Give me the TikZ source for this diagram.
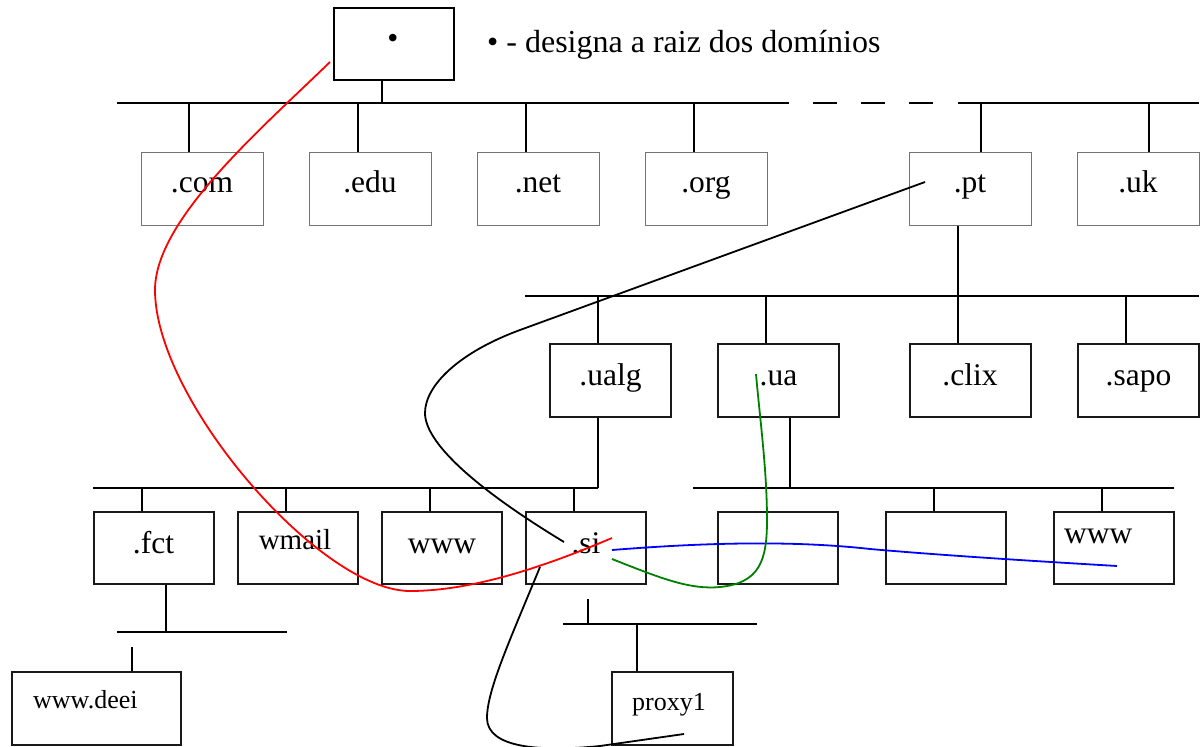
\documentclass[tikz,border=0pt]{standalone}
\usepackage{fontspec}
\setmainfont{Liberation Serif}
\begin{document}
\begin{tikzpicture}[x=1pt,y=-1pt,
  topbox/.style={draw=black!55,line width=1pt,minimum width=122pt,minimum height=73pt,inner sep=0pt},
  rootbox/.style={draw=black,line width=2pt,minimum width=120pt,minimum height=72pt,inner sep=0pt},
  midbox/.style={draw=black!90,line width=2pt,minimum width=121pt,minimum height=73pt,inner sep=0pt},
  lowbox/.style={draw=black!90,line width=2pt,minimum width=120pt,minimum height=72pt,inner sep=0pt},
  lbl/.style={anchor=base,inner sep=0pt,font=\fontsize{31.5}{36}\selectfont},
  bus/.style={line width=2pt,black},
  link/.style={line width=1.6pt,black},
  curve/.style={line width=1.8pt}]
\useasboundingbox[fill=white] (0,0) rectangle (1200,747);

% ---------- root ----------
\node[rootbox] (root) at (394,44) {};
\node[lbl] (rootdot) at (393,48) {•};
\node[anchor=base west,inner sep=0pt,font=\fontsize{32}{38}\selectfont] (legend) at (487,52) {• - designa a raiz dos domínios};

% ---------- top level ----------
\node[topbox] (com) at (202,188.5) {};
\node[topbox] (edu) at (370,188.5) {};
\node[topbox] (net) at (538,188.5) {};
\node[topbox] (org) at (706,188.5) {};
\node[topbox] (pt)  at (970,188.5) {};
\node[topbox] (uk)  at (1138,188.5) {};
\node[lbl] (tcom) at (202,192) {.com};
\node[lbl] (tedu) at (370,192) {.edu};
\node[lbl] (tnet) at (538,192) {.net};
\node[lbl] (torg) at (706,192) {.org};
\node[lbl] (tpt)  at (970,192) {.pt};
\node[lbl] (tuk)  at (1138,192) {.uk};

% top bus
\coordinate (b0a) at (117,103);
\coordinate (b0b) at (789,103);
\coordinate (b0c) at (813,103);
\coordinate (b0d) at (933,103);
\coordinate (b0e) at (958,103);
\coordinate (b0f) at (1199,103);
\draw[bus] (b0a) -- (b0b);
\draw[bus,dash pattern=on 24pt off 24pt] (b0c) -- (b0d);
\draw[bus] (b0e) -- (b0f);
\coordinate (r0) at (382,103);
\draw[link] (root.south -| r0) -- (r0);
\foreach \n/\x in {com/189,edu/358,net/526,org/694,pt/981,uk/1149}{
  \coordinate (v\n) at (\x,103);
  \draw[link] (v\n) -- (v\n |- \n.north);
}

% ---------- level 1 ----------
\node[midbox] (ualg) at (610.5,380.5) {};
\node[midbox] (ua)   at (778.5,380.5) {};
\node[midbox] (clix) at (970,380.5) {};
\node[midbox] (sapo) at (1138.5,380.5) {};
\node[lbl] (tualg) at (610.5,385) {.ualg};
\node[lbl] (tua)   at (778.5,385) {.ua};
\node[lbl] (tclix) at (970,385) {.clix};
\node[lbl] (tsapo) at (1138.5,385) {.sapo};

\coordinate (b1a) at (525,296);
\coordinate (b1b) at (1199,296);
\draw[bus] (b1a) -- (b1b);
\coordinate (vpt) at (958,296);
\draw[link] (pt.south -| vpt) -- (vpt |- clix.north);
\foreach \n/\x in {ualg/598,ua/766,sapo/1126}{
  \coordinate (w\n) at (\x,296);
  \draw[link] (w\n) -- (w\n |- \n.north);
}

% ---------- level 2 ----------
\node[lowbox] (fct)   at (153.5,548) {};
\node[lowbox] (wmail) at (298,548) {};
\node[lowbox] (www)   at (442,548) {};
\node[lowbox] (si)    at (586,548) {};
\node[lowbox] (ra)    at (778,548) {};
\node[lowbox] (rb)    at (946,548) {};
\node[lowbox] (rc)    at (1114,548) {};
\node[lbl] (tfct)   at (153.5,553) {.fct};
\node[lbl,font=\fontsize{29}{34}\selectfont] (twmail) at (295,549) {wmail};
\node[lbl] (twww)   at (442,553) {www};
\node[lbl] (tsi)    at (586,553) {.si};
\node[lbl,anchor=base west] (trc) at (1064,543) {www};

\coordinate (b2a) at (93,488);
\coordinate (b2b) at (598,488);
\coordinate (b2c) at (693,488);
\coordinate (b2d) at (1174,488);
\draw[bus] (b2a) -- (b2b);
\draw[bus] (b2c) -- (b2d);
\draw[link] (ualg.south -| b2b) -- (b2b);
\coordinate (vua) at (790,488);
\draw[link] (ua.south -| vua) -- (vua);
\foreach \n/\x in {fct/142,wmail/286,www/430,si/574,rb/934,rc/1102}{
  \coordinate (u\n) at (\x,488);
  \draw[link] (u\n) -- (u\n |- \n.north);
}

% ---------- level 3 ----------
\node[lowbox,minimum width=169pt,minimum height=73pt] (deei) at (96.5,708.5) {};
\node[lowbox,minimum width=121pt,minimum height=73pt] (proxy) at (672.5,708.5) {};
\node[lbl,anchor=base west,font=\fontsize{26}{30}\selectfont] (tdeei) at (33,708) {www.deei};
\node[lbl,font=\fontsize{26}{30}\selectfont] (tproxy) at (669,710) {proxy1};

\coordinate (b3a) at (117,632);
\coordinate (b3b) at (287,632);
\draw[bus] (b3a) -- (b3b);
\coordinate (vfct) at (166,632);
\draw[link] (fct.south -| vfct) -- (vfct);
\coordinate (sdeei) at (132,647);
\draw[link] (sdeei) -- (sdeei |- deei.north);

\coordinate (b4a) at (563,624);
\coordinate (b4b) at (757,624);
\draw[bus] (b4a) -- (b4b);
\coordinate (ssi) at (588,599);
\draw[link] (ssi) -- (ssi |- b4a);
\coordinate (vproxy) at (637,624);
\draw[link] (vproxy) -- (vproxy |- proxy.north);

% ---------- traced paths ----------
\coordinate (redA) at (330,62);
\coordinate (redB) at (612,538);
\draw[curve,red] (redA) .. controls (260,130) and (155,220) .. (155,290)
  .. controls (155,400) and (320,591) .. (410,591)
  .. controls (480,591) and (560,560) .. (redB);

\coordinate (blkA) at (925,182);
\coordinate (blkB) at (564,542);
\draw[curve,black] (blkA) -- (520,330) .. controls (460,352) and (425,385) .. (425,413)
  .. controls (425,441) and (470,485) .. (blkB);

\coordinate (bluA) at (612,550);
\coordinate (bluB) at (1117,566);
\draw[curve,blue] (bluA) .. controls (700,543) and (790,540) .. (870,549)
  .. controls (950,556) and (1050,562) .. (bluB);

\coordinate (grnA) at (612,559);
\coordinate (grnB) at (756,374);
\draw[curve,green!50!black] (grnA) .. controls (660,578) and (690,590) .. (720,587)
  .. controls (760,583) and (767,560) .. (767,520)
  .. controls (767,470) and (760,420) .. (grnB);

\coordinate (blk2A) at (540,567);
\coordinate (blk2B) at (684,734);
\draw[curve,black] (blk2A) .. controls (510,640) and (487,690) .. (487,718)
  .. controls (487,748) and (540,752) .. (600,746) -- (blk2B);
\end{tikzpicture}
\end{document}
